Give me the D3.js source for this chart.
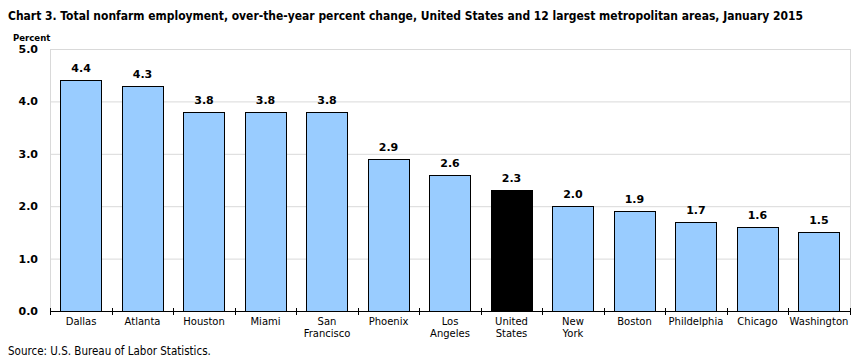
<!DOCTYPE html>
<html>
<head>
<meta charset="utf-8">
<script src="https://cdn.jsdelivr.net/npm/d3@7"></script>
<style>
  body { margin: 0; background: #fff; }
  svg { display: block; }
</style>
</head>
<body>
<div class="chart"></div>
<script>
// ---------------------------------------------------------------
// data
// ---------------------------------------------------------------
const areas = ["Dallas", "Atlanta", "Houston", "Miami", "San Francisco", "Phoenix",
  "Los Angeles", "United States", "New York", "Boston", "Phildelphia", "Chicago", "Washington"];
const labelLines = [["Dallas"], ["Atlanta"], ["Houston"], ["Miami"], ["San", "Francisco"], ["Phoenix"],
  ["Los", "Angeles"], ["United", "States"], ["New", "York"], ["Boston"], ["Phildelphia"], ["Chicago"], ["Washington"]];
const pctChange = [4.4, 4.3, 3.8, 3.8, 3.8, 2.9, 2.6, 2.3, 2.0, 1.9, 1.7, 1.6, 1.5];
const yTicks = [0, 1, 2, 3, 4, 5];

const WIDTH = 866, HEIGHT = 361;
const plot = { left: 50, right: 850, top: 49, bottom: 311 };

const svg = d3.select(".chart").append("svg")
  .attr("width", WIDTH)
  .attr("height", HEIGHT);

const xScale = d3.scaleBand().domain(areas).range([plot.left, plot.right]).paddingInner(0.33).paddingOuter(0.17);
const yScale = d3.scaleLinear().domain([0, 5]).range([plot.bottom, plot.top]);

// title
svg.append("text")
  .attr("x", 8).attr("y", 20)
  .attr("font-family", "'DejaVu Sans Condensed', 'Liberation Sans Narrow', sans-serif")
  .attr("font-weight", "bold")
  .attr("font-size", 12.5)
  .attr("textLength", 795)
  .attr("lengthAdjust", "spacingAndGlyphs")
  .attr("fill", "#000")
  .text("Chart 3. Total nonfarm employment, over-the-year percent change, United States and 12 largest metropolitan areas, January 2015");

// gridlines
svg.append("g").selectAll("line")
  .data(yTicks.filter(d => d > 0))
  .join("line")
  .attr("x1", plot.left).attr("x2", plot.right)
  .attr("y1", d => yScale(d) + 0.5).attr("y2", d => yScale(d) + 0.5)
  .attr("stroke", "#d9d9d9");

// left and right frame
svg.append("line").attr("x1", plot.left + 0.5).attr("x2", plot.left + 0.5)
  .attr("y1", plot.top).attr("y2", plot.bottom).attr("stroke", "#d9d9d9");
svg.append("line").attr("x1", plot.right + 0.5).attr("x2", plot.right + 0.5)
  .attr("y1", plot.top).attr("y2", plot.bottom).attr("stroke", "#d9d9d9");

// y tick labels
svg.append("g").selectAll("text")
  .data(yTicks)
  .join("text")
  .attr("x", 38).attr("y", d => yScale(d) + 4)
  .attr("text-anchor", "end")
  .attr("font-family", "Tahoma, 'DejaVu Sans', sans-serif")
  .attr("font-weight", "bold")
  .attr("font-size", 11)
  .text(d => d.toFixed(1));

svg.append("text")
  .attr("x", 13).attr("y", 41)
  .attr("font-family", "'DejaVu Sans Condensed', sans-serif")
  .attr("font-weight", "bold")
  .attr("font-size", 9.5)
  .text("Percent");

// bars
svg.append("g").selectAll("rect")
  .data(pctChange)
  .join("rect")
  .attr("x", (d, i) => Math.round(xScale(areas[i])) + 0.5)
  .attr("y", d => Math.round(yScale(d)) + 0.5)
  .attr("width", Math.round(xScale.bandwidth()))
  .attr("height", d => plot.bottom - Math.round(yScale(d)))
  .attr("fill", (d, i) => areas[i] === "United States" ? "#000" : "#99ccff")
  .attr("stroke", "#000")
  .attr("stroke-width", 1);

// value labels
svg.append("g").selectAll("text")
  .data(pctChange)
  .join("text")
  .attr("x", (d, i) => xScale(areas[i]) + xScale.bandwidth() / 2)
  .attr("y", d => yScale(d) - 8)
  .attr("text-anchor", "middle")
  .attr("font-family", "Tahoma, 'DejaVu Sans', sans-serif")
  .attr("font-weight", "bold")
  .attr("font-size", 11)
  .text(d => d.toFixed(1));

// x axis
svg.append("line")
  .attr("x1", plot.left).attr("x2", plot.right)
  .attr("y1", plot.bottom + 0.5).attr("y2", plot.bottom + 0.5)
  .attr("stroke", "#000");
const step = (plot.right - plot.left) / areas.length;
svg.append("g").selectAll("line")
  .data(d3.range(areas.length + 1))
  .join("line")
  .attr("x1", i => Math.round(plot.left + i * step) + 0.5)
  .attr("x2", i => Math.round(plot.left + i * step) + 0.5)
  .attr("y1", plot.bottom - 3).attr("y2", plot.bottom + 4)
  .attr("stroke", "#000");

// category labels
const cats = svg.append("g").selectAll("text")
  .data(areas)
  .join("text")
  .attr("text-anchor", "middle")
  .attr("font-family", "Tahoma, 'DejaVu Sans', sans-serif")
  .attr("font-size", 10)
  .attr("transform", d => `translate(${xScale(d) + xScale.bandwidth() / 2}, ${plot.bottom + 14})`);
cats.selectAll("tspan")
  .data((d, i) => labelLines[i])
  .join("tspan")
  .attr("x", 0)
  .attr("dy", (d, j) => j === 0 ? 0 : 12)
  .text(d => d);

// source
svg.append("text")
  .attr("x", 8).attr("y", 355)
  .attr("font-family", "'DejaVu Sans Condensed', sans-serif")
  .attr("font-size", 11.5)
  .text("Source: U.S. Bureau of Labor Statistics.");
</script>
</body>
</html>
